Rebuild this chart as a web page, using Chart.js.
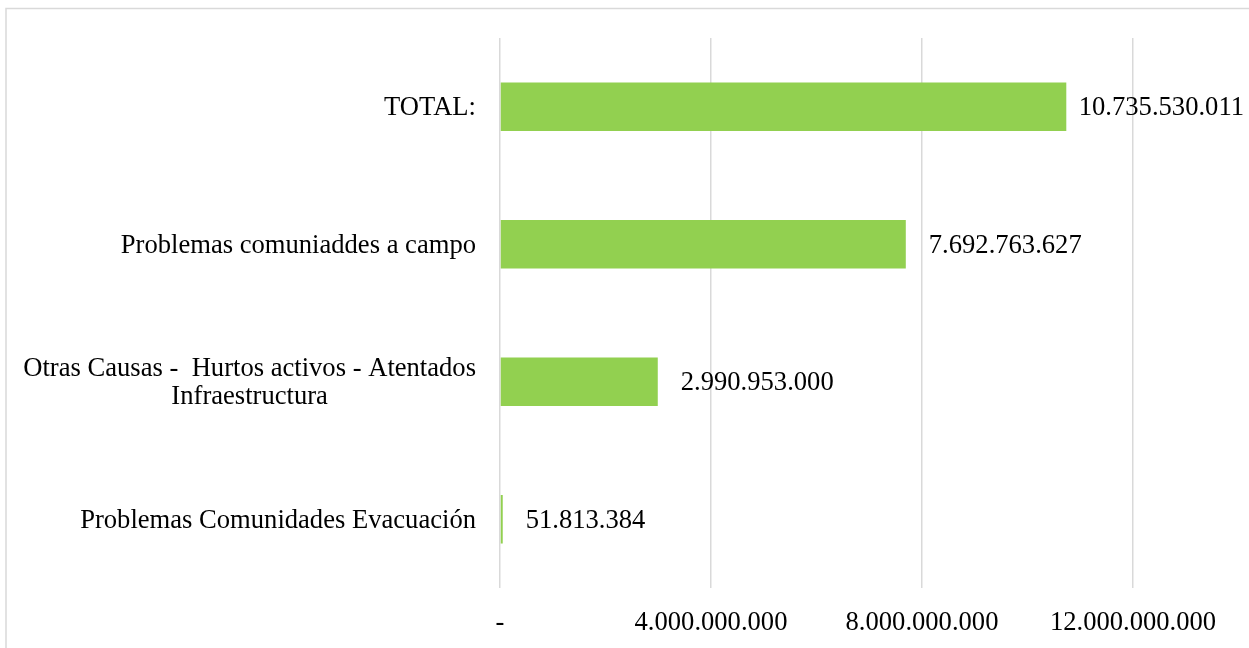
<!DOCTYPE html>
<html>
<head>
<meta charset="utf-8">
<script src="https://cdn.jsdelivr.net/npm/chart.js@4/dist/chart.umd.min.js"></script>
<style>
  html, body { margin: 0; padding: 0; background: #fff; }
  #wrap { width: 1249px; height: 648px; }
</style>
</head>
<body>
<div id="wrap"><canvas id="costChart" width="1249" height="648"></canvas></div>
<script>
// categories top to bottom
const categories = [
    'TOTAL:',
    'Problemas comuniaddes a campo',
    ['Otras Causas -  Hurtos activos - Atentados', 'Infraestructura'],
    'Problemas Comunidades Evacuación'
];
const costValues = [10735530011, 7692763627, 2990953000, 51813384];
const axisMin = 0;
const axisMax = 12000000000;
const axisStep = 4000000000;

const FONT = '"Liberation Serif", "Times New Roman", serif';
const FONT_SIZE = 26.6;

function formatDots(n) {
    if (n === 0) return '-';
    return String(Math.round(n)).replace(/\B(?=(\d{3})+(?!\d))/g, '.');
}

// frame, category labels and value labels
const extrasPlugin = {
    id: 'extras',
    beforeDraw(chart) {
        const ctx = chart.ctx;
        ctx.save();
        ctx.strokeStyle = '#d9d9d9';
        ctx.lineWidth = 1.5;
        ctx.strokeRect(6, 8.5, 1300, 700);
        ctx.restore();
    },
    afterDatasetsDraw(chart) {
        const ctx = chart.ctx;
        const yScale = chart.scales.y;
        const meta = chart.getDatasetMeta(0);
        ctx.save();
        ctx.font = FONT_SIZE + 'px ' + FONT;
        ctx.fillStyle = '#000';
        ctx.textBaseline = 'middle';

        // category labels: block right aligned, lines centered in block
        const rightEdge = chart.chartArea.left - 24;
        const lineH = 28;
        categories.forEach((cat, i) => {
            const lines = Array.isArray(cat) ? cat : [cat];
            const cy = yScale.getPixelForValue(i) + 1.5;
            const maxW = Math.max(...lines.map(l => ctx.measureText(l).width));
            const cx = rightEdge - maxW / 2;
            ctx.textAlign = 'center';
            lines.forEach((l, j) => {
                const ly = cy + (j - (lines.length - 1) / 2) * lineH;
                ctx.fillText(l, cx, ly);
            });
        });

        // value labels
        ctx.textAlign = 'left';
        meta.data.forEach((bar, i) => {
            const txt = formatDots(costValues[i]);
            const w = ctx.measureText(txt).width;
            let x = bar.x + 23;
            if (x + w > chart.width - 5) x = chart.width - 5 - w;
            ctx.fillText(txt, x, bar.y + 1.5);
        });
        ctx.restore();
    }
};

new Chart(document.getElementById('costChart'), {
    type: 'bar',
    data: {
        labels: categories,
        datasets: [{
            data: costValues,
            backgroundColor: '#92d050',
            borderWidth: 0,
            categoryPercentage: 1,
            barPercentage: 0.353
        }]
    },
    options: {
        indexAxis: 'y',
        responsive: false,
        devicePixelRatio: 1,
        animation: false,
        layout: { padding: { top: 38, right: 116, bottom: 0, left: 0 } },
        plugins: {
            legend: { display: false },
            tooltip: { enabled: false }
        },
        scales: {
            y: {
                ticks: { display: false },
                grid: { display: false },
                border: { display: false },
                afterFit(scale) { scale.width = 500; }
            },
            x: {
                min: axisMin,
                max: axisMax,
                ticks: {
                    stepSize: axisStep,
                    padding: 19,
                    color: '#000',
                    font: { family: FONT, size: FONT_SIZE },
                    callback: v => formatDots(v)
                },
                grid: { color: '#d9d9d9', lineWidth: 1.5, drawTicks: false },
                border: { display: false },
                afterFit(scale) { scale.height = 60; }
            }
        }
    },
    plugins: [extrasPlugin]
});
</script>
</body>
</html>
